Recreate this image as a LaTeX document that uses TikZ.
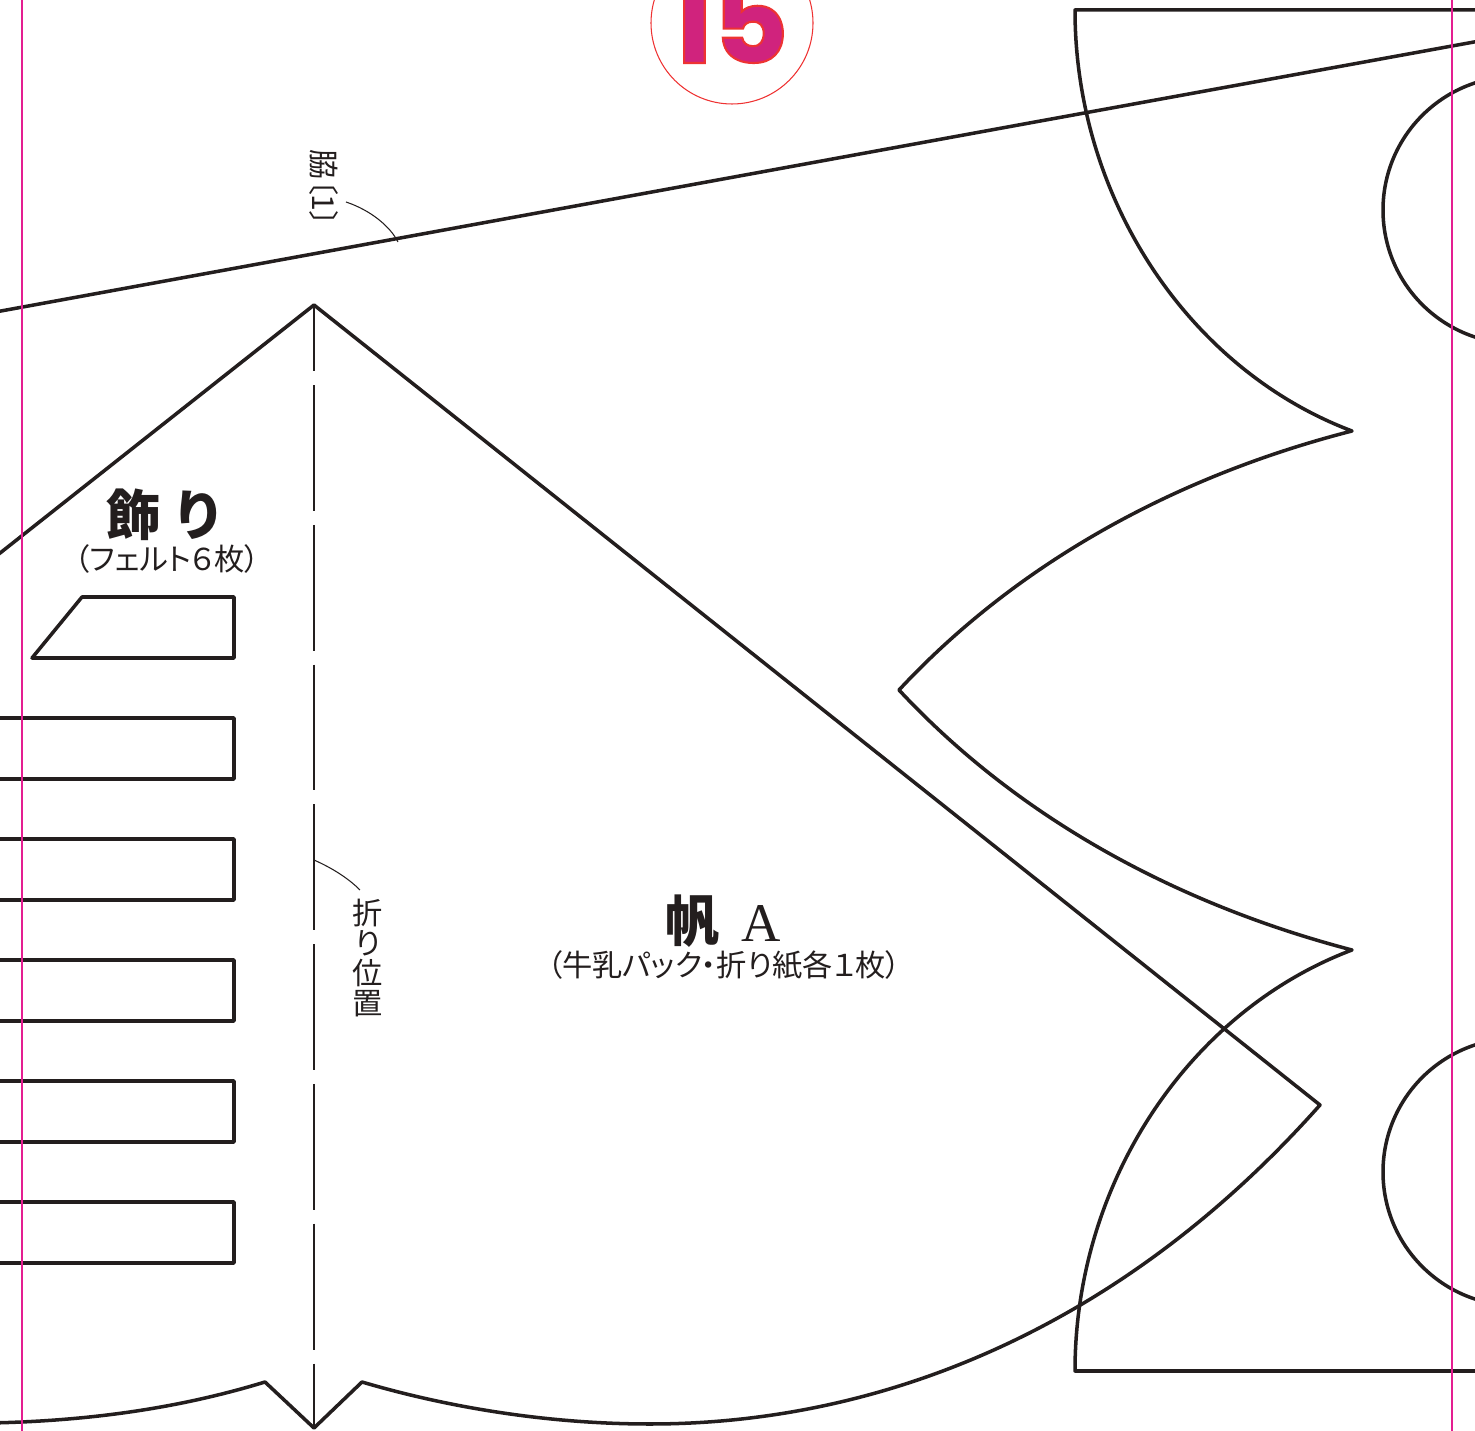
\documentclass[tikz,border=0pt]{standalone}
\usepackage{fontspec}
\usetikzlibrary{calc}
\newfontfamily\jpfont[RawFeature=+palt]{Noto Sans CJK JP}
\newfontfamily\serfont{Liberation Serif}
\newfontfamily\numfont{Poppins}
\definecolor{inkblack}{RGB}{35,30,30}
\definecolor{trimpink}{RGB}{228,30,145}
\definecolor{pagered}{RGB}{238,50,50}
\definecolor{pagefill}{RGB}{208,35,125}
\tikzset{
	cutline/.style={line width=1.0pt, color=inkblack, line join=round},
	leaderline/.style={line width=0.3pt, color=inkblack},
	foldline/.style={line width=0.45pt, color=inkblack, dash pattern=on 1.257cm off 0.14cm, dash phase=0.597cm},
	trimline/.style={line width=0.6pt, color=trimpink},
	bigtitle/.style={inner sep=0pt, color=inkblack, font=\jpfont\bfseries\fontsize{15.5}{15.5}\selectfont},
	smalltitle/.style={inner sep=0pt, color=inkblack, font=\jpfont\fontsize{8.6}{8.6}\selectfont},
}
\begin{document}
\begin{tikzpicture}[x=0.01cm, y=-0.01cm]
		%%%%% START %%%%%
		\useasboundingbox (0, 0) rectangle (1475, 1431);
		\clip (0, 0) rectangle (1475, 1431);
		
		% page number
		\draw[line width=0.3pt, color=pagered] (732, 23) circle (81);
		\node[inner sep=0pt, anchor=base, color=pagefill] (pagenum) at (729, 63) {\numfont\bfseries\fontsize{33}{33}\selectfont\special{pdf:code 2 Tr 0.93 0.2 0.2 RG 0.6 w}15\special{pdf:code 0 Tr 0 w}};
		
		% fold edge at the top
		\draw[cutline] (-10, 313) -- (1013, 126) -- (1485, 40);
		\coordinate (edgemark) at (398, 242);
		\node[smalltitle, rotate=-90] (edgelabel) at (324, 188) {脇〔1〕};
		\coordinate (edgestart) at (346, 202);
		\draw[leaderline] (edgestart) .. controls (370, 210) and (390, 226) .. (edgemark);
		
		% sail
		\draw[cutline] (-10, 561) -- (314, 305) -- (1320, 1105)
			.. controls (1120, 1330) and (880, 1424) .. (650, 1424)
			.. controls (550, 1424) and (450, 1408) .. (362, 1382)
			-- (314, 1428) -- (265, 1382)
			.. controls (180, 1408) and (90, 1421) .. (-10, 1423);
		\draw[foldline] (314, 305) -- (314, 1428);
		\coordinate (foldmark) at (314, 860);
		\coordinate (foldend) at (360, 890);
		\draw[leaderline] (foldmark) .. controls (332, 868) and (348, 878) .. (foldend);
		\node[smalltitle, align=center, font=\jpfont\fontsize{8.6}{8.6}\selectfont] (foldlabel) at (368, 958) {折\\り\\位\\置};
		
		% right hand piece
		\draw[cutline] (1485, 10) -- (1075, 10)
			.. controls (1075, 200) and (1190, 370) .. (1352, 431)
			.. controls (1180, 475) and (1020, 560) .. (899, 690)
			.. controls (1020, 820) and (1180, 905) .. (1352, 950)
			.. controls (1190, 1011) and (1075, 1181) .. (1075, 1371)
			-- (1485, 1371);
		\draw[cutline] (1516.7, 210) circle (133.7);
		\draw[cutline] (1516.7, 1172) circle (133.7);
		
		% trim pieces
		\draw[cutline] (82, 597) -- (234, 597) -- (234, 658) -- (32, 658) -- cycle;
		\foreach \ytop in {718, 839, 960, 1081, 1202}
			\draw[cutline] (-10, \ytop) rectangle (234, \ytop + 61);
		
		% labels
		\node[bigtitle] (trimtitle) at (163, 515) {飾\hspace{0.3em}り};
		\node[smalltitle] (trimnote) at (167, 559) {（フェルト６枚）};
		\node[bigtitle] (sailtitle) at (723, 921) {帆\hspace{0.4em}{\serfont\mdseries A}};
		\node[smalltitle] (sailnote) at (724, 965) {（牛乳パック・折り紙各１枚）};
		
		% trim marks
		\draw[trimline] (22, 0) -- (22, 1431);
		\draw[trimline] (1452, 0) -- (1452, 1431);
		%%%%% END %%%%%
	\end{tikzpicture}
\end{document}
